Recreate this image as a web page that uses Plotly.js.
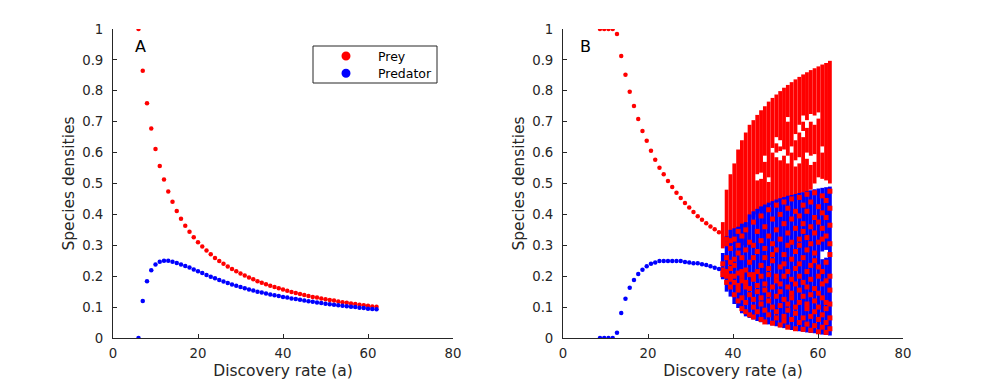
<!DOCTYPE html>
<html>
<head>
<meta charset="utf-8">
<script src="https://cdn.plot.ly/plotly-3.0.1.min.js"></script>
<style>
  html, body { margin: 0; padding: 0; background: #fff; }
  #chart { width: 1001px; height: 383px; }
</style>
</head>
<body>
<div id="chart"></div>
<script>
// ---- panel A: stable equilibrium ----
const aA = [6, 7, 8, 9, 10, 11, 12, 13, 14, 15, 16, 17, 18, 19, 20, 21, 22, 23, 24, 25, 26, 27, 28, 29, 30,
  31, 32, 33, 34, 35, 36, 37, 38, 39, 40, 41, 42, 43, 44, 45, 46, 47, 48, 49, 50, 51, 52, 53, 54, 55, 56,
  57, 58, 59, 60, 61, 62];
const preyA = [1.0, 0.865, 0.76, 0.678, 0.612, 0.557, 0.513, 0.474, 0.441, 0.411, 0.386, 0.363, 0.344, 0.326,
  0.310, 0.296, 0.283, 0.271, 0.259, 0.249, 0.240, 0.231, 0.223, 0.216, 0.209, 0.202, 0.196, 0.190, 0.184,
  0.179, 0.174, 0.169, 0.165, 0.161, 0.157, 0.153, 0.149, 0.146, 0.142, 0.139, 0.136, 0.133, 0.131, 0.128,
  0.125, 0.123, 0.121, 0.118, 0.116, 0.114, 0.112, 0.110, 0.108, 0.106, 0.104, 0.102, 0.101];
const predA = [0.0, 0.12, 0.184, 0.219, 0.238, 0.247, 0.250, 0.250, 0.247, 0.243, 0.238, 0.233, 0.228, 0.222,
  0.216, 0.210, 0.204, 0.198, 0.193, 0.188, 0.183, 0.178, 0.173, 0.169, 0.165, 0.161, 0.157, 0.154, 0.150,
  0.147, 0.144, 0.141, 0.138, 0.136, 0.133, 0.131, 0.128, 0.126, 0.124, 0.121, 0.119, 0.117, 0.115, 0.113,
  0.111, 0.109, 0.108, 0.106, 0.104, 0.103, 0.101, 0.100, 0.098, 0.097, 0.095, 0.094, 0.093];

// ---- panel B: stable branch before the chaotic window ----
const aB = [8.7, 9.7, 10.7, 11.7, 12.7, 13.7, 14.7, 15.7, 16.7, 17.7, 18.7, 19.7, 20.7, 21.7, 22.7, 23.7,
  24.7, 25.7, 26.7, 27.7, 28.7, 29.7, 30.7, 31.7, 32.7, 33.7, 34.7, 35.7, 36.7];
const preyB = [1, 1, 1, 1, 0.984, 0.913, 0.852, 0.797, 0.751, 0.709, 0.670, 0.638, 0.606, 0.577, 0.551,
  0.530, 0.508, 0.489, 0.470, 0.453, 0.437, 0.422, 0.408, 0.394, 0.383, 0.371, 0.361, 0.352, 0.342];
const predB = [0, 0, 0, 0, 0.017, 0.081, 0.127, 0.163, 0.188, 0.207, 0.221, 0.232, 0.240, 0.244, 0.249,
  0.249, 0.249, 0.249, 0.249, 0.249, 0.246, 0.244, 0.242, 0.242, 0.239, 0.236, 0.232, 0.227, 0.223];

// ---- panel B: chaotic window, one column per a value ----
const chaosA = [37.6, 38.5, 39.4, 40.3, 41.2, 42.1, 43.0, 43.9, 44.8, 45.7, 46.6, 47.5, 48.4, 49.3, 50.2,
  51.1, 52.0, 52.9, 53.8, 54.7, 55.6, 56.5, 57.4, 58.3, 59.2, 60.1, 61.0, 61.9, 62.8];
// prey: filled ranges [low, high] per column
const preyBands = [
  [[0.29, 0.375]], [[0.30, 0.48]], [[0.30, 0.53]], [[0.30, 0.565]], [[0.30, 0.61]], [[0.30, 0.64]],
  [[0.30, 0.665]], [[0.38, 0.69]], [[0.39, 0.705]], [[0.40, 0.51], [0.53, 0.722]],
  [[0.41, 0.515], [0.535, 0.737]], [[0.42, 0.57], [0.59, 0.75]], [[0.43, 0.505], [0.52, 0.765]],
  [[0.43, 0.60], [0.615, 0.777]], [[0.44, 0.585], [0.60, 0.63], [0.65, 0.788]],
  [[0.44, 0.575], [0.605, 0.62], [0.64, 0.799]], [[0.45, 0.59], [0.61, 0.81]],
  [[0.45, 0.565], [0.59, 0.70], [0.715, 0.819]], [[0.455, 0.60], [0.62, 0.828]],
  [[0.46, 0.555], [0.575, 0.64], [0.66, 0.837]], [[0.465, 0.565], [0.585, 0.665], [0.69, 0.845]],
  [[0.47, 0.65], [0.67, 0.70], [0.72, 0.853]], [[0.47, 0.58], [0.60, 0.68], [0.705, 0.86]],
  [[0.48, 0.56], [0.59, 0.70], [0.725, 0.867]], [[0.50, 0.57], [0.595, 0.69], [0.72, 0.873]],
  [[0.52, 0.71], [0.73, 0.879]], [[0.515, 0.60], [0.62, 0.885]], [[0.51, 0.89]], [[0.50, 0.897]]
];
// predator: filled ranges per column
const predBands = [
  [[0.19, 0.275]], [[0.15, 0.33]], [[0.134, 0.35]], [[0.11, 0.355]], [[0.097, 0.36]], [[0.08, 0.37]],
  [[0.07, 0.375]], [[0.065, 0.40]], [[0.06, 0.41]], [[0.055, 0.418]], [[0.051, 0.426]], [[0.048, 0.432]],
  [[0.044, 0.438]], [[0.041, 0.443]], [[0.038, 0.448]], [[0.035, 0.452]], [[0.032, 0.456]], [[0.029, 0.46]],
  [[0.026, 0.463]], [[0.024, 0.466]], [[0.022, 0.469]], [[0.02, 0.472]], [[0.018, 0.475]], [[0.016, 0.478]],
  [[0.015, 0.481]], [[0.013, 0.484]], [[0.011, 0.255], [0.28, 0.486]],
  [[0.01, 0.26], [0.285, 0.488]], [[0.008, 0.49]]
];
// prey points that show on top of the predator cloud
const preySpots = [
  [0.205, 0.22, 0.24],
  [0.18, 0.20, 0.215, 0.26, 0.305, 0.32],
  [0.165, 0.19, 0.20, 0.225, 0.245, 0.29, 0.315],
  [0.14, 0.18, 0.20, 0.235, 0.255, 0.32],
  [0.12, 0.155, 0.17, 0.21, 0.275, 0.30, 0.345],
  [0.095, 0.13, 0.185, 0.20, 0.215, 0.26, 0.33],
  [0.085, 0.115, 0.165, 0.18, 0.22, 0.285, 0.35],
  [0.075, 0.14, 0.16, 0.205, 0.245, 0.31],
  [0.068, 0.10, 0.125, 0.19, 0.205, 0.26, 0.30, 0.375],
  [0.085, 0.15, 0.17, 0.215, 0.28, 0.345],
  [0.06, 0.11, 0.13, 0.20, 0.235, 0.315, 0.395],
  [0.052, 0.09, 0.155, 0.175, 0.26, 0.29, 0.36],
  [0.075, 0.12, 0.14, 0.205, 0.225, 0.33, 0.415],
  [0.048, 0.10, 0.165, 0.25, 0.27, 0.305, 0.385],
  [0.065, 0.085, 0.135, 0.185, 0.20, 0.285, 0.35, 0.43],
  [0.042, 0.105, 0.15, 0.175, 0.23, 0.32, 0.40],
  [0.055, 0.07, 0.125, 0.20, 0.24, 0.27, 0.37, 0.44],
  [0.035, 0.09, 0.11, 0.165, 0.215, 0.30, 0.34, 0.42],
  [0.06, 0.13, 0.145, 0.19, 0.255, 0.31, 0.385, 0.45],
  [0.03, 0.08, 0.10, 0.175, 0.225, 0.28, 0.355, 0.41],
  [0.05, 0.115, 0.155, 0.20, 0.24, 0.30, 0.32, 0.395, 0.455],
  [0.028, 0.065, 0.135, 0.18, 0.26, 0.345, 0.37, 0.43],
  [0.045, 0.095, 0.11, 0.165, 0.215, 0.285, 0.325, 0.41, 0.465],
  [0.025, 0.07, 0.14, 0.19, 0.235, 0.305, 0.36, 0.44],
  [0.04, 0.085, 0.12, 0.16, 0.25, 0.275, 0.34, 0.39, 0.47],
  [0.02, 0.06, 0.10, 0.145, 0.20, 0.23, 0.31, 0.375, 0.425],
  [0.035, 0.075, 0.13, 0.175, 0.215, 0.32, 0.355, 0.405, 0.46],
  [0.018, 0.05, 0.095, 0.115, 0.185, 0.245, 0.33, 0.39, 0.445],
  [0.03, 0.065, 0.11, 0.155, 0.20, 0.27, 0.305, 0.365, 0.42, 0.475]
];

const RED = '#ff0000';
const BLUE = '#0000ff';
const INK = '#262626';
const FONT = 'DejaVu Sans, Arial, sans-serif';

function bandTrace(bands, color) {
  const x = [], y = [];
  bands.forEach((list, i) => {
    list.forEach(([lo, hi]) => {
      x.push(chaosA[i], chaosA[i], null);
      y.push(lo, hi, null);
    });
  });
  return {
    type: 'scatter', mode: 'lines', x, y, xaxis: 'x2', yaxis: 'y2',
    line: { color, width: 3.8 }, hoverinfo: 'skip', showlegend: false
  };
}

function spotTrace(spots, color) {
  const x = [], y = [];
  spots.forEach((list, i) => list.forEach(v => { x.push(chaosA[i]); y.push(v); }));
  return {
    type: 'scatter', mode: 'markers', x, y, xaxis: 'x2', yaxis: 'y2',
    marker: { color, size: 5, symbol: 'square' }, hoverinfo: 'skip', showlegend: false
  };
}

function dots(x, y, color, xa, ya) {
  return {
    type: 'scatter', mode: 'markers', x, y, xaxis: xa, yaxis: ya,
    marker: { color, size: 4.5 }, showlegend: false
  };
}

const traces = [
  dots(aA, preyA, RED, 'x', 'y'),
  dots(aA, predA, BLUE, 'x', 'y'),
  bandTrace(preyBands, RED),
  bandTrace(predBands, BLUE),
  spotTrace(preySpots, RED),
  dots(aB, preyB, RED, 'x2', 'y2'),
  dots(aB, predB, BLUE, 'x2', 'y2')
];

function xAxis(domain, anchor) {
  return {
    domain, anchor, range: [0, 80], tickvals: [0, 20, 40, 60, 80],
    ticks: 'inside', ticklen: 4, tickcolor: INK, tickwidth: 1,
    showline: true, linecolor: INK, linewidth: 1, showgrid: false, zeroline: false,
    tickfont: { family: FONT, size: 13.3, color: INK }, ticklabelstandoff: 3,
    title: { text: 'Discovery rate (a)', font: { family: FONT, size: 15.5, color: INK }, standoff: 5 },
    automargin: false
  };
}
function yAxis(domain, anchor) {
  return {
    domain, anchor, range: [0, 1], dtick: 0.1,
    ticks: 'inside', ticklen: 4, tickcolor: INK, tickwidth: 1,
    showline: true, linecolor: INK, linewidth: 1, showgrid: false, zeroline: false,
    tickfont: { family: FONT, size: 13.3, color: INK }, ticklabelstandoff: 6,
    title: { text: 'Species densities', font: { family: FONT, size: 15.5, color: INK }, standoff: 3 },
    automargin: false
  };
}

// legend drawn by hand so its box matches the MATLAB one
const W = 1001, H = 383;
const px = v => v / W, py = v => 1 - v / H;
const legendNames = ['Prey', 'Predator'];
const legendColors = [RED, BLUE];
const legendRows = [56, 73.3];

const shapes = [
  { type: 'rect', xref: 'paper', yref: 'paper', x0: px(313), x1: px(437), y0: py(83), y1: py(46),
    line: { color: INK, width: 1 }, fillcolor: '#fff', layer: 'above' }
];
const annotations = [
  { text: 'A', xref: 'x', yref: 'y', x: 6.5, y: 0.945, showarrow: false,
    font: { family: FONT, size: 16, color: '#000' } },
  { text: 'B', xref: 'x2', yref: 'y2', x: 5.3, y: 0.945, showarrow: false,
    font: { family: FONT, size: 16, color: '#000' } }
];
legendNames.forEach((name, i) => {
  const r = legendRows[i];
  shapes.push({ type: 'circle', xref: 'paper', yref: 'paper', x0: px(341.5), x1: px(350.5),
    y0: py(r + 4.5), y1: py(r - 4.5), line: { color: legendColors[i], width: 0 },
    fillcolor: legendColors[i], layer: 'above' });
  annotations.push({ text: name, xref: 'paper', yref: 'paper', x: px(376), y: py(r),
    xanchor: 'left', yanchor: 'middle', showarrow: false,
    font: { family: FONT, size: 12.5, color: '#000' } });
});

const yDom = [45 / H, 354 / H];
const layout = {
  width: W, height: H,
  margin: { l: 0, r: 0, t: 0, b: 0 },
  paper_bgcolor: '#fff', plot_bgcolor: '#fff',
  font: { family: FONT, color: INK },
  xaxis: xAxis([113 / W, 453 / W], 'y'),
  yaxis: yAxis(yDom, 'x'),
  xaxis2: xAxis([563 / W, 903 / W], 'y2'),
  yaxis2: yAxis(yDom, 'x2'),
  showlegend: false,
  shapes,
  annotations
};

Plotly.newPlot('chart', traces, layout, { displayModeBar: false, staticPlot: true });
</script>
</body>
</html>
